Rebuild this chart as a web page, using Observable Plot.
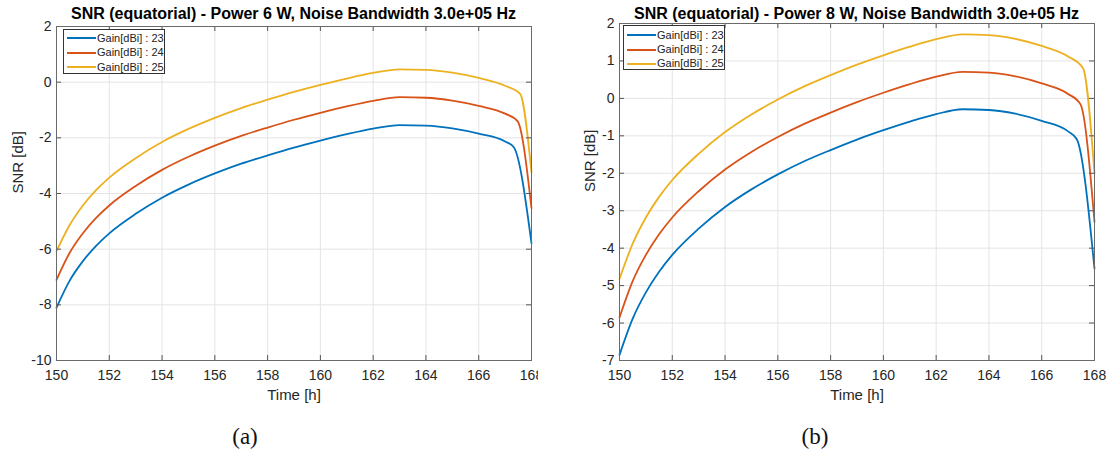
<!DOCTYPE html>
<html>
<head>
<meta charset="utf-8">
<script src="https://cdn.jsdelivr.net/npm/d3@7"></script>
<script src="https://cdn.jsdelivr.net/npm/@observablehq/plot@0.6"></script>
<style>
  body { margin: 0; background: #fff; }
  #root { position: relative; width: 1115px; height: 455px; overflow: hidden; background: #fff;
          font-family: "Liberation Sans", Arial, sans-serif; color: #262626; }
  .panel { position: absolute; top: 0; height: 412px; overflow: hidden; }
  .panel svg { max-width: none !important; }
  .title { position: absolute; top: 6px; line-height: 16px; font-weight: bold; font-size: 16px;
           white-space: nowrap; transform: translateX(-50%); color: #000; }
  .caption { position: absolute; top: 425px; line-height: 23px; font-family: "Liberation Serif", "DejaVu Serif", serif;
             font-size: 23px; transform: translateX(-50%); color: #111; }
  .legend { position: absolute; background: #fff; border: 1px solid #333; box-sizing: border-box; }
  .legend .ln { position: absolute; height: 2px; }
  .legend .tx { position: absolute; font-size: 11px; line-height: 12px; white-space: nowrap; color: #222; }
</style>
</head>
<body>
<div id="root"></div>
<script>
// ---------------- data ----------------
const gains = [23, 24, 25];
const seriesColors = ["#0072BD", "#D95319", "#EDB120"];
const titles = [
  "SNR (equatorial) - Power 6 W, Noise Bandwidth 3.0e+05 Hz",
  "SNR (equatorial) - Power 8 W, Noise Bandwidth 3.0e+05 Hz"
];
const captions = ["(a)", "(b)"];
const xTicks = [150, 152, 154, 156, 158, 160, 162, 164, 166, 168];
const yTicksA = [-10, -8, -6, -4, -2, 0, 2];
const yTicksB = [-7, -6, -5, -4, -3, -2, -1, 0, 1, 2];

const timeBase = [150, 150.5, 151, 151.5, 152, 153, 154, 155, 156, 157, 158, 159, 160, 161, 162, 163, 164, 165, 166, 167];
const timeG23 = [...timeBase, 167.33, 168];
const timeG24 = [...timeBase, 167.47, 168];
const timeG25 = [...timeBase, 167.57, 168];

// Power 6 W
const snr6W_g23 = [-8.10,-7.13,-6.43,-5.88,-5.43,-4.73,-4.15,-3.68,-3.28,-2.93,-2.63,-2.35,-2.10,-1.87,-1.67,-1.54,-1.56,-1.66,-1.85,-2.13,-2.34,-5.79];
const snr6W_g24 = [-7.10,-6.13,-5.43,-4.88,-4.43,-3.73,-3.15,-2.68,-2.28,-1.93,-1.63,-1.35,-1.10,-0.87,-0.67,-0.54,-0.56,-0.66,-0.85,-1.13,-1.40,-4.53];
const snr6W_g25 = [-6.07,-5.13,-4.43,-3.88,-3.43,-2.73,-2.15,-1.68,-1.28,-0.93,-0.63,-0.35,-0.10,0.13,0.33,0.46,0.44,0.34,0.15,-0.13,-0.42,-3.24];
// Power 8 W
const snr8W_g23 = [-6.85,-5.88,-5.18,-4.63,-4.18,-3.48,-2.90,-2.43,-2.03,-1.68,-1.38,-1.10,-0.85,-0.62,-0.42,-0.29,-0.31,-0.41,-0.60,-0.88,-1.09,-4.55];
const snr8W_g24 = [-5.85,-4.88,-4.18,-3.63,-3.18,-2.48,-1.90,-1.43,-1.03,-0.68,-0.38,-0.10,0.15,0.38,0.58,0.71,0.69,0.59,0.40,0.12,-0.16,-3.30];
const snr8W_g25 = [-4.82,-3.88,-3.18,-2.63,-2.18,-1.48,-0.90,-0.43,-0.03,0.32,0.62,0.90,1.15,1.38,1.58,1.71,1.69,1.59,1.40,1.12,0.80,-2.01];

// -------------- build tables --------------
function table(timeArrs, valArrs) {
  const rows = [];
  gains.forEach((g, i) => {
    timeArrs[i].forEach((t, j) => rows.push({time: t, snr: valArrs[i][j], gain: `Gain[dBi] : ${g}`}));
  });
  return rows;
}
const dataA = table([timeG23, timeG24, timeG25], [snr6W_g23, snr6W_g24, snr6W_g25]);
const dataB = table([timeG23, timeG24, timeG25], [snr8W_g23, snr8W_g24, snr8W_g25]);
const gainLabels = gains.map(g => `Gain[dBi] : ${g}`);

const root = document.getElementById("root");

function makePanel(cfg) {
  const {data, yDomain, yTicks, left, width, mLeft, mRight, mTop, clipW, ylabelDx} = cfg;
  const H = 412, mBottom = 52;
  const innerW = width - mLeft - mRight;
  const innerH = H - mTop - mBottom;
  const plot = Plot.plot({
    width, height: H,
    marginLeft: mLeft, marginRight: mRight, marginTop: mTop, marginBottom: mBottom,
    style: {fontFamily: '"Liberation Sans", Arial, sans-serif', color: "#262626", background: "transparent", overflow: "visible", maxWidth: "none"},
    x: {domain: [150, 168]},
    y: {domain: yDomain},
    color: {domain: gainLabels, range: seriesColors},
    marks: [
      Plot.gridX(xTicks, {stroke: "#e4e4e4", strokeOpacity: 1}),
      Plot.gridY(yTicks, {stroke: "#e4e4e4", strokeOpacity: 1}),
      Plot.line(data, {x: "time", y: "snr", z: "gain", stroke: "gain", strokeWidth: 1.8, curve: "monotone-x"}),
      Plot.tickX(xTicks, {x: d => d, insetTop: innerH - 5, stroke: "#555"}),
      Plot.tickX(xTicks, {x: d => d, insetBottom: innerH - 5, stroke: "#555"}),
      Plot.tickY(yTicks, {y: d => d, insetRight: innerW - 5, stroke: "#555"}),
      Plot.tickY(yTicks, {y: d => d, insetLeft: innerW - 5, stroke: "#555"}),
      Plot.frame({stroke: "#6a6a6a"}),
      Plot.axisX(xTicks, {tickSize: 0, tickPadding: 10, fontSize: 14, label: null, tickFormat: d => String(d)}),
      Plot.axisY(yTicks, {tickSize: 0, tickPadding: 5, fontSize: 14, label: null, tickFormat: d => String(d)}),
      Plot.text(["Time [h]"], {text: d => d, frameAnchor: "bottom", lineAnchor: "middle", dy: 35, fontSize: 15, fill: "#262626"}),
      Plot.text(["SNR [dB]"], {text: d => d, frameAnchor: "left", lineAnchor: "middle", dx: ylabelDx, rotate: -90, fontSize: 15, fill: "#262626"})
    ]
  });
  const div = document.createElement("div");
  div.className = "panel";
  div.style.left = left + "px";
  div.style.width = clipW + "px";
  div.appendChild(plot);
  root.appendChild(div);
}

makePanel({data: dataA, yDomain: [-10, 2], yTicks: yTicksA, left: 0, width: 557, mLeft: 56, mRight: 26, mTop: 26, clipW: 538, ylabelDx: -38});
makePanel({data: dataB, yDomain: [-7, 2], yTicks: yTicksB, left: 557, width: 558, mLeft: 62, mRight: 21, mTop: 23, clipW: 558, ylabelDx: -29});

// titles & captions
[[293.5, 0], [856.5, 1]].forEach(([cx, i]) => {
  const t = document.createElement("div");
  t.className = "title"; t.style.left = cx + "px"; t.textContent = titles[i];
  root.appendChild(t);
});
[[245, 0], [815, 1]].forEach(([cx, i]) => {
  const c = document.createElement("div");
  c.className = "caption"; c.style.left = cx + "px"; c.textContent = captions[i];
  root.appendChild(c);
});

// legends (inside plot, north-west)
function legend(left, top, rowYs) {
  const box = document.createElement("div");
  box.className = "legend";
  box.style.left = left + "px"; box.style.top = top + "px";
  box.style.width = "102px"; box.style.height = "45px";
  gainLabels.forEach((lab, i) => {
    const ln = document.createElement("div");
    ln.className = "ln"; ln.style.left = "3px"; ln.style.width = "29px";
    ln.style.top = (rowYs[i] - 1) + "px"; ln.style.background = seriesColors[i];
    const tx = document.createElement("div");
    tx.className = "tx"; tx.style.left = "33px"; tx.style.top = (rowYs[i] - 6.5) + "px";
    tx.textContent = lab;
    box.appendChild(ln); box.appendChild(tx);
  });
  root.appendChild(box);
}
legend(63, 29, [8, 22.5, 37]);
legend(623, 25, [9, 23.5, 37.5]);
</script>
</body>
</html>
